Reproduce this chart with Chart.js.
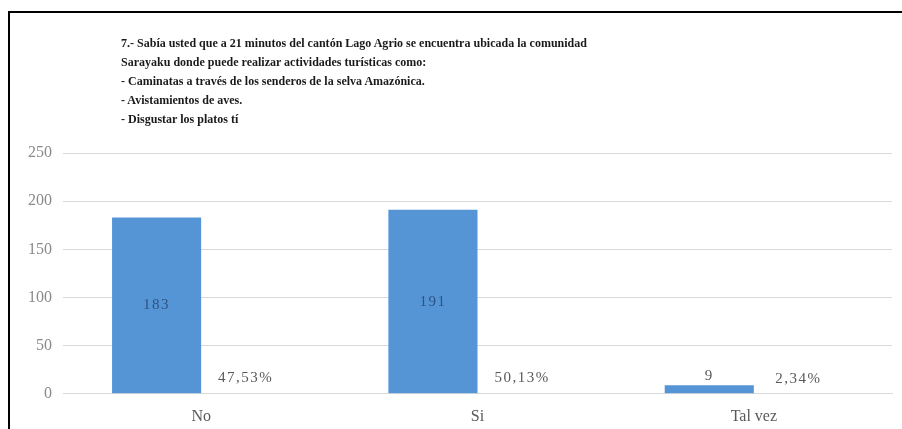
<!DOCTYPE html>
<html>
<head>
<meta charset="utf-8">
<script src="https://cdn.jsdelivr.net/npm/chart.js@4"></script>
<style>
  html, body { margin: 0; padding: 0; background: #fff; overflow: hidden; }
  #wrap { position: relative; width: 902px; height: 429px; overflow: hidden; }
  #frame { position: absolute; left: 8px; top: 11px; width: 1000px; height: 1000px; border: 2px solid #000; box-sizing: border-box; }
  #title {
    position: absolute; left: 121px; top: 33px;
    font-family: "Liberation Serif", serif; font-weight: bold; font-size: 13.5px;
    line-height: 19px; color: #1a1a1a; white-space: pre;
    transform: scaleX(0.89); transform-origin: left top;
  }
  canvas { position: absolute; left: 0; top: 0; }
</style>
</head>
<body>
<div id="wrap">
  <div id="frame"></div>
  <!-- canvas runs a little below the window so the axis labels sit where the picture has them -->
  <canvas id="c" width="902" height="439"></canvas>
  <div id="title">7.- Sabía usted que a 21 minutos del cantón Lago Agrio se encuentra ubicada la comunidad
Sarayaku donde puede realizar actividades turísticas como:
- Caminatas a través de los senderos de la selva Amazónica.
- Avistamientos de aves.
- Disgustar los platos tí</div>
</div>
<script>
const categories = ["No", "Si", "Tal vez"];
const counts = [183, 191, 9];
const percents = [47.53, 50.13, 2.34];
const yTicks = [0, 50, 100, 150, 200, 250];

const serif = '"Liberation Serif", "Times New Roman", serif';

// draws the count and percent labels the way the spreadsheet did
const barLabels = {
  id: "barLabels",
  afterDatasetsDraw(chart) {
    const ctx = chart.ctx;
    ctx.save();
    ctx.font = "15px " + serif;
    ctx.letterSpacing = "1.5px";
    ctx.textAlign = "center";
    ctx.textBaseline = "middle";

    chart.getDatasetMeta(0).data.forEach((bar, i) => {
      const h = bar.base - bar.y;
      if (h > 20) {
        ctx.fillStyle = "#2f5383";
        ctx.fillText(String(counts[i]), bar.x, (bar.y + bar.base) / 2);
      } else {
        ctx.fillStyle = "#595959";
        ctx.fillText(String(counts[i]), bar.x, bar.y - 9);
      }
    });

    chart.getDatasetMeta(1).data.forEach((bar, i) => {
      ctx.fillStyle = "#595959";
      ctx.fillText(percents[i].toFixed(2).replace(".", ",") + "%", bar.x, bar.y - 15);
    });
    ctx.restore();
  },
};

new Chart(document.getElementById("c"), {
  type: "bar",
  data: {
    labels: categories,
    datasets: [
      {
        label: "Frecuencia",
        data: counts,
        backgroundColor: "#5595d6",
        borderWidth: 0,
        barPercentage: 1,
        categoryPercentage: 0.645,
      },
      {
        label: "Porcentaje",
        data: percents.map((p) => p / 100),
        backgroundColor: "rgba(0,0,0,0)",
        borderWidth: 0,
        barPercentage: 1,
        categoryPercentage: 0.645,
      },
    ],
  },
  options: {
    responsive: false,
    animation: false,
    layout: { padding: { top: 153, left: 13, right: 10, bottom: 0 } },
    plugins: {
      legend: { display: false },
      tooltip: { enabled: false },
      title: { display: false },
    },
    scales: {
      x: {
        grid: { display: false, drawTicks: false },
        border: { display: true, color: "#d9d9d9", width: 1 },
        ticks: { color: "#595959", font: { family: serif, size: 16 }, padding: 13 },
      },
      y: {
        min: 0,
        max: 250,
        afterFit(scale) { scale.width = 50; },
        afterBuildTicks(scale) { scale.ticks = yTicks.map((v) => ({ value: v })); },
        grid: { color: "#d9d9d9", drawTicks: false },
        border: { display: false },
        ticks: { color: "#8a8a8a", font: { family: serif, size: 16 }, padding: 11 },
      },
    },
  },
  plugins: [barLabels],
});
</script>
</body>
</html>
